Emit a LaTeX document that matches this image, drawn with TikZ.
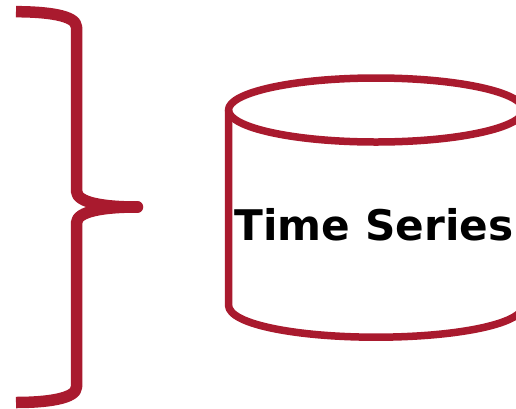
\documentclass[tikz,border=0pt]{standalone}
\usepackage{fontspec}
\setmainfont{DejaVu Sans}
\definecolor{crimson}{HTML}{A91A2E}
\tikzset{bracestroke/.style={draw=crimson,line width=11.5pt,line join=round},
 cylstroke/.style={draw=crimson,line width=7.5pt,line join=round},
 labeltext/.style={inner sep=0pt,anchor=base,font=\bfseries\fontsize{42.2}{43}\selectfont}}
\begin{document}
\begin{tikzpicture}[x=1pt,y=-1pt]
\useasboundingbox (0,0) rectangle (516,408);
\clip (0,0) rectangle (516,408);
% brace
\draw[bracestroke] (16,11.7) .. controls (45,11.7) and (76.5,15) .. (76.5,27) -- (76.5,191)
  .. controls (76.5,203) and (105,207) .. (137,207);
\draw[bracestroke] (16,402.5) .. controls (45,402.5) and (76.5,399) .. (76.5,387) -- (76.5,223)
  .. controls (76.5,211) and (105,207) .. (137,207);
\draw[crimson,line width=11.5pt,line cap=round] (136.5,207) -- (137.5,207);
% cylinder
\draw[cylstroke] (376,110) ellipse [x radius=147.5, y radius=32];
\draw[cylstroke] (228.5,110) -- (228.5,305) .. controls (228.5,325) and (300,337.2) .. (376,337.2)
  .. controls (452,337.2) and (523.5,325) .. (523.5,305) -- (523.5,110);
\node[labeltext] (label) at (374,240) {Time Series};
\end{tikzpicture}
\end{document}
